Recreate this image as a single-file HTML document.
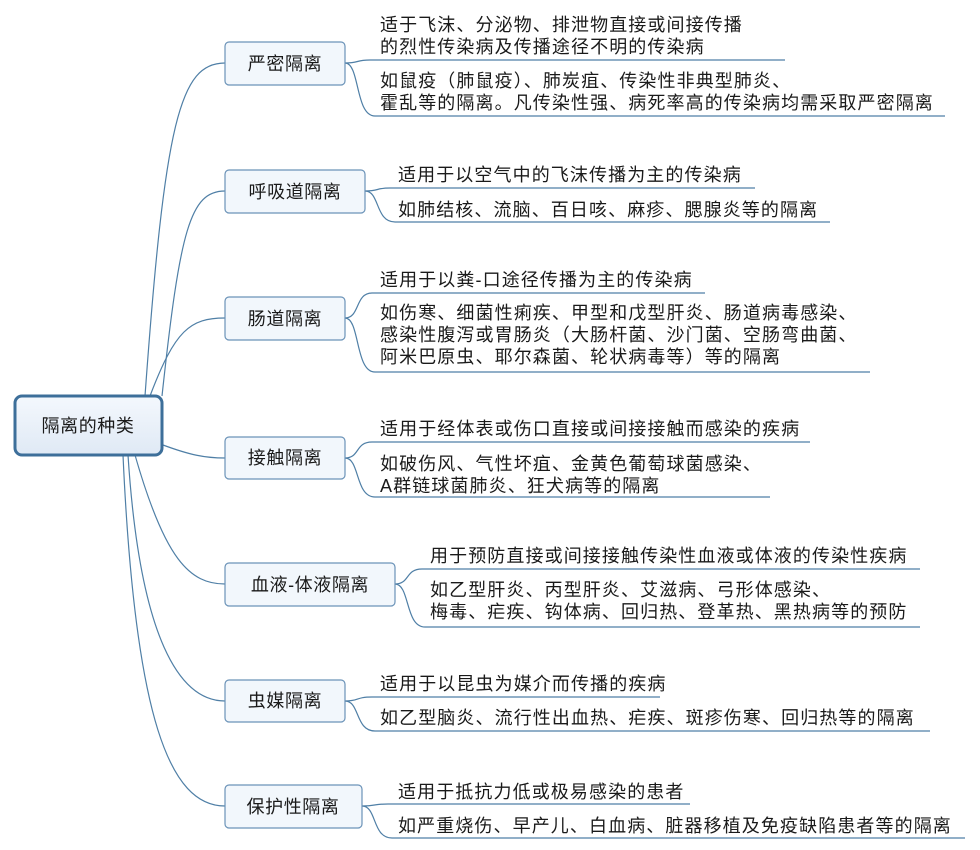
<!DOCTYPE html>
<html><head><meta charset="utf-8"><style>
html,body{margin:0;padding:0;background:#fff;}
svg{display:block;}
text{font-family:"Liberation Sans","Noto Sans CJK SC",sans-serif;fill:#1a1a1a;}
.b{font-size:18px;letter-spacing:0.6px;}
.l{font-size:18px;letter-spacing:1.1px;}
.c{fill:none;stroke:#4f7fa6;stroke-width:1.2;}
.bx{fill:#f2f7fc;stroke:#6b93b8;stroke-width:1.2;}
</style></head><body>
<svg width="980" height="850" viewBox="0 0 980 850" xmlns="http://www.w3.org/2000/svg">
<defs><linearGradient id="g" x1="0" y1="0" x2="0" y2="1"><stop offset="0" stop-color="#f4f8fd"/><stop offset="1" stop-color="#dfe9f5"/></linearGradient></defs>
<path class="c" d="M145,396 C165,120 180,63 225,63"/>
<path class="c" d="M162,396 C180,230 190,191 225,191"/>
<path class="c" d="M150,396 C175,330 190,318 225,318"/>
<path class="c" d="M163,445 C190,455 205,458 225,458"/>
<path class="c" d="M135,455 C165,560 190,584 225,584"/>
<path class="c" d="M128,455 C140,640 180,701 225,701"/>
<path class="c" d="M123,455 C135,720 170,806 225,806"/>
<rect x="15" y="396" width="147" height="59" rx="7" fill="url(#g)" stroke="#3d6f9a" stroke-width="3"/>
<text class="b" x="88" y="432" text-anchor="middle">隔离的种类</text>

<path class="c" d="M345,63 C360,63 355,60 370,60 L785,60"/>
<path class="c" d="M345,63 C360,63 355,116 375,116 L945,116"/>
<rect class="bx" x="225" y="42" width="120" height="43" rx="4"/>
<text class="b" x="285" y="70" text-anchor="middle">严密隔离</text>
<text class="l" x="380" y="31">适于飞沫、分泌物、排泄物直接或间接传播</text>
<text class="l" x="380" y="53">的烈性传染病及传播途径不明的传染病</text>
<text class="l" x="380" y="87">如鼠疫（肺鼠疫）、肺炭疽、传染性非典型肺炎、</text>
<text class="l" x="380" y="109">霍乱等的隔离。凡传染性强、病死率高的传染病均需采取严密隔离</text>

<path class="c" d="M365,191 C380,191 375,188 390,188 L755,188"/>
<path class="c" d="M365,191 C380,191 375,222 395,222 L830,222"/>
<rect class="bx" x="225" y="170" width="140" height="43" rx="4"/>
<text class="b" x="295" y="198" text-anchor="middle">呼吸道隔离</text>
<text class="l" x="398" y="181">适用于以空气中的飞沫传播为主的传染病</text>
<text class="l" x="398" y="216">如肺结核、流脑、百日咳、麻疹、腮腺炎等的隔离</text>

<path class="c" d="M345,318 C360,318 355,293 372,293 L705,293"/>
<path class="c" d="M345,318 C360,318 355,372 375,372 L870,372"/>
<rect class="bx" x="225" y="297" width="120" height="43" rx="4"/>
<text class="b" x="285" y="325" text-anchor="middle">肠道隔离</text>
<text class="l" x="380" y="286">适用于以粪-口途径传播为主的传染病</text>
<text class="l" x="380" y="319">如伤寒、细菌性痢疾、甲型和戊型肝炎、肠道病毒感染、</text>
<text class="l" x="380" y="341">感染性腹泻或胃肠炎（大肠杆菌、沙门菌、空肠弯曲菌、</text>
<text class="l" x="380" y="363">阿米巴原虫、耶尔森菌、轮状病毒等）等的隔离</text>

<path class="c" d="M345,458 C360,458 355,442 372,442 L810,442"/>
<path class="c" d="M345,458 C360,458 355,497 375,497 L770,497"/>
<rect class="bx" x="225" y="437" width="120" height="42" rx="4"/>
<text class="b" x="285" y="464" text-anchor="middle">接触隔离</text>
<text class="l" x="380" y="435">适用于经体表或伤口直接或间接接触而感染的疾病</text>
<text class="l" x="380" y="470">如破伤风、气性坏疽、金黄色葡萄球菌感染、</text>
<text class="l" x="380" y="492">A群链球菌肺炎、狂犬病等的隔离</text>

<path class="c" d="M395,584 C410,584 405,569 422,569 L920,569"/>
<path class="c" d="M395,584 C410,584 405,627 425,627 L920,627"/>
<rect class="bx" x="225" y="563" width="170" height="43" rx="4"/>
<text class="b" x="310" y="591" text-anchor="middle">血液-体液隔离</text>
<text class="l" x="430" y="562">用于预防直接或间接接触传染性血液或体液的传染性疾病</text>
<text class="l" x="430" y="596">如乙型肝炎、丙型肝炎、艾滋病、弓形体感染、</text>
<text class="l" x="430" y="618">梅毒、疟疾、钩体病、回归热、登革热、黑热病等的预防</text>

<path class="c" d="M345,701 C360,701 355,697 372,697 L660,697"/>
<path class="c" d="M345,701 C360,701 355,731 375,731 L930,731"/>
<rect class="bx" x="225" y="680" width="120" height="42" rx="4"/>
<text class="b" x="285" y="707" text-anchor="middle">虫媒隔离</text>
<text class="l" x="380" y="690">适用于以昆虫为媒介而传播的疾病</text>
<text class="l" x="380" y="724">如乙型脑炎、流行性出血热、疟疾、斑疹伤寒、回归热等的隔离</text>

<path class="c" d="M362,806 C377,806 372,804 388,804 L690,804"/>
<path class="c" d="M362,806 C377,806 372,838 392,838 L965,838"/>
<rect class="bx" x="225" y="785" width="137" height="43" rx="4"/>
<text class="b" x="293" y="813" text-anchor="middle">保护性隔离</text>
<text class="l" x="398" y="798">适用于抵抗力低或极易感染的患者</text>
<text class="l" x="398" y="832">如严重烧伤、早产儿、白血病、脏器移植及免疫缺陷患者等的隔离</text>
</svg>
</body></html>
